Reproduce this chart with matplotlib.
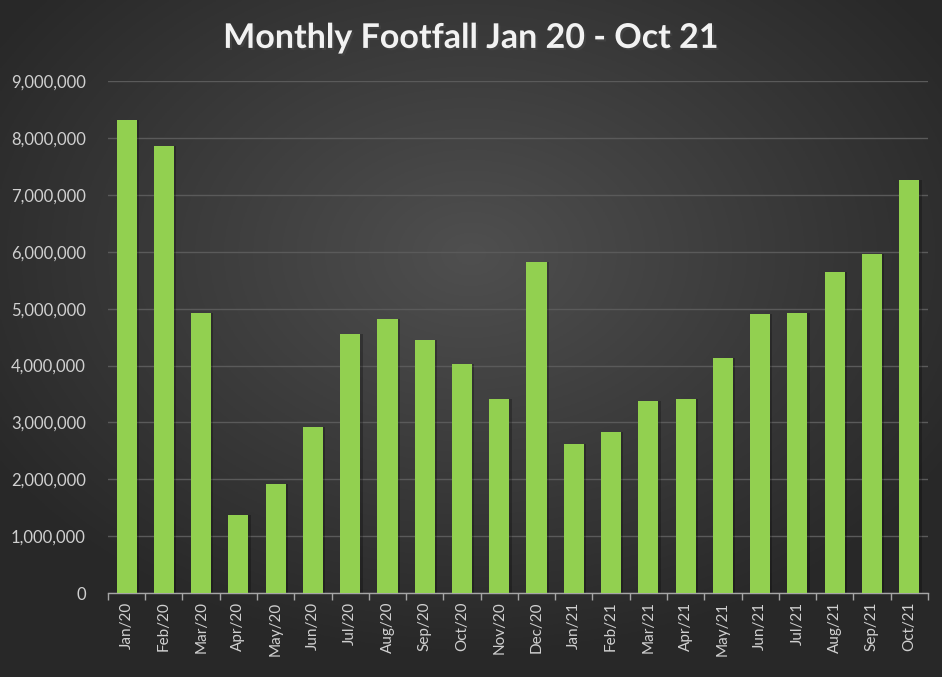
"""Monthly footfall bar chart, Jan 2020 - Oct 2021, dark Excel-style theme."""
import matplotlib

matplotlib.use("Agg")
import matplotlib.pyplot as plt
import matplotlib.patheffects as pe
import numpy as np
from matplotlib.ticker import FuncFormatter, FixedLocator

MONTHS = [
    "Jan/20", "Feb/20", "Mar/20", "Apr/20", "May/20", "Jun/20", "Jul/20",
    "Aug/20", "Sep/20", "Oct/20", "Nov/20", "Dec/20", "Jan/21", "Feb/21",
    "Mar/21", "Apr/21", "May/21", "Jun/21", "Jul/21", "Aug/21", "Sep/21",
    "Oct/21",
]
FOOTFALL = [
    8310000, 7860000, 4920000, 1370000, 1920000, 2920000, 4550000,
    4820000, 4450000, 4020000, 3410000, 5830000, 2620000, 2830000,
    3370000, 3410000, 4130000, 4900000, 4920000, 5640000, 5960000,
    7260000,
]
Y_TICKS = list(range(0, 9000001, 1000000))

BAR_COLOR = "#92D050"
TEXT_COLOR = "#d0d0d0"
GRID_COLOR = "#5a5a5a"

plt.rcParams["font.family"] = ["Lato", "DejaVu Sans"]

fig = plt.figure(figsize=(9.42, 6.77), dpi=100)

# --- background: radial grey gradient, lighter towards the upper middle ----
bg = fig.add_axes([0, 0, 1, 1], zorder=0)
gx, gy = np.meshgrid(np.linspace(-1, 1, 400), np.linspace(-1, 1, 300))
r = np.sqrt((gx / 1.1) ** 2 + ((gy + 0.25) / 1.1) ** 2)
shade = np.clip(0.31 - 0.14 * r, 0.16, 0.31)
bg.imshow(np.dstack([shade] * 3), aspect="auto", extent=[0, 1, 0, 1],
          origin="upper")
bg.set_axis_off()

ax = fig.add_axes([0.1146, 0.124, 0.8704, 0.756], zorder=1)
ax.patch.set_alpha(0)

x = np.arange(len(MONTHS))
# faint shadow behind each bar
ax.bar(x + 0.06, FOOTFALL, width=0.54, color="black", alpha=0.25, zorder=2)
ax.bar(x, FOOTFALL, width=0.54, color=BAR_COLOR, zorder=3)

ax.set_xlim(-0.5, len(MONTHS) - 0.5)
ax.set_ylim(0, 9000000)
ax.set_yticks(Y_TICKS)
ax.yaxis.set_major_formatter(FuncFormatter(lambda v, _: f"{int(v):,}"))
ax.grid(axis="y", color=GRID_COLOR, linewidth=1.0, zorder=1)
ax.set_axisbelow(True)

ax.set_xticks(x)
ax.set_xticklabels(MONTHS, rotation=90, fontsize=11, color=TEXT_COLOR)
ax.xaxis.set_minor_locator(FixedLocator(np.arange(-0.5, len(MONTHS), 1.0)))
ax.tick_params(axis="x", which="major", length=0, pad=6)
ax.tick_params(axis="x", which="minor", length=5, color="#a6a6a6", width=1)
ax.tick_params(axis="y", length=0, labelsize=12, labelcolor=TEXT_COLOR, pad=16)

for side in ("top", "right", "left"):
    ax.spines[side].set_visible(False)
ax.spines["bottom"].set_color("#a6a6a6")
ax.spines["bottom"].set_linewidth(1.0)

# title with a soft drop shadow
fig.text(0.5, 0.944, "Monthly Footfall Jan 20 - Oct 21", color="#f2f2f2",
         ha="center", va="center", fontsize=24.5, fontweight="bold",
         path_effects=[pe.SimplePatchShadow(offset=(1.5, -1.5), alpha=0.6),
                       pe.Normal()])

fig.savefig("out.png", dpi=100)
plt.close(fig)
